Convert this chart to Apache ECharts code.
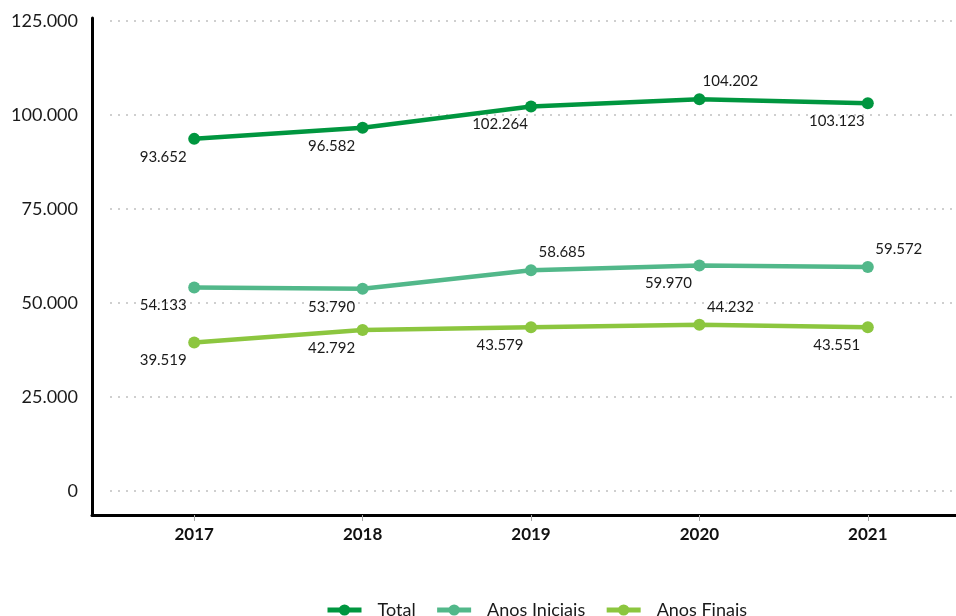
<!DOCTYPE html>
<html>
<head>
<meta charset="utf-8">
<script src="https://cdn.jsdelivr.net/npm/echarts@6/dist/echarts.min.js"></script>
<style>
  html, body { margin: 0; padding: 0; background: #fff; }
  #chart { width: 956px; height: 616px; }
</style>
</head>
<body>
<div id="chart"></div>
<script>
'use strict';

// categorias e valores
var anos = ['2017', '2018', '2019', '2020', '2021'];
var total = [93652, 96582, 102264, 104202, 103123];
var anosIniciais = [54133, 53790, 58685, 59970, 59572];
var anosFinais = [39519, 42792, 43579, 44232, 43551];

// rótulo acima (true) ou abaixo (false) do ponto
var rotuloTotal = [false, false, false, true, false];
var rotuloIniciais = [false, false, true, false, true];
var rotuloFinais = [false, false, false, true, false];

var FONTE = 'Lato, "Open Sans", sans-serif';

function milhar(v) {
    return String(v).replace(/\B(?=(\d{3})+(?!\d))/g, '.');
}

function pontos(valores, acima) {
    return valores.map(function (v, i) {
        return {
            value: v,
            label: {
                position: 'inside',
                offset: acima[i] ? [31, -18] : [-31, 18]
            }
        };
    });
}

function serie(nome, cor, valores, acima) {
    return {
        name: nome,
        type: 'line',
        xAxisIndex: 0,
        yAxisIndex: 0,
        data: pontos(valores, acima),
        symbol: 'circle',
        symbolSize: 12,
        color: cor,
        lineStyle: { width: 4.5, color: cor },
        itemStyle: { color: cor },
        label: {
            show: true,
            color: '#1a1a1a',
            fontSize: 15,
            fontFamily: FONTE,
            formatter: function (p) { return milhar(p.value); }
        },
        z: 5
    };
}

var chart = echarts.init(document.getElementById('chart'));

chart.setOption({
    animation: false,
    backgroundColor: '#fff',
    grid: [
        { left: 110, right: 4, top: 21, bottom: 125 },
        { left: 92, right: 0, top: 18, bottom: 101 }
    ],
    legend: {
        left: 320,
        top: 596,
        itemWidth: 34,
        itemHeight: 14,
        itemGap: 19,
        lineStyle: { width: 5 },
        textStyle: {
            fontSize: 18,
            fontFamily: FONTE,
            color: '#1a1a1a',
            padding: [0, 0, 0, 11]
        },
        data: ['Total', 'Anos Iniciais', 'Anos Finais']
    },
    xAxis: [
        {
            type: 'category',
            gridIndex: 0,
            data: anos,
            boundaryGap: true,
            offset: 24,
            axisLine: { show: false, onZero: false },
            axisTick: { show: true, alignWithLabel: true, length: 6, lineStyle: { color: '#a6a6a6' } },
            axisLabel: {
                margin: 11,
                fontSize: 17,
                fontWeight: 'bold',
                fontFamily: FONTE,
                color: '#111'
            },
            splitLine: { show: false }
        },
        {
            type: 'value',
            gridIndex: 1,
            min: 0,
            max: 1,
            axisLine: { show: true, lineStyle: { color: '#000', width: 3 } },
            axisTick: { show: false },
            axisLabel: { show: false },
            splitLine: { show: false }
        }
    ],
    yAxis: [
        {
            type: 'value',
            gridIndex: 0,
            min: 0,
            max: 125000,
            interval: 25000,
            axisLine: { show: false },
            axisTick: { show: false },
            axisLabel: {
                margin: 32,
                fontSize: 18,
                fontFamily: FONTE,
                color: '#1a1a1a',
                formatter: milhar
            },
            splitLine: {
                show: true,
                lineStyle: { color: '#c0c0c0', type: [2, 6], width: 1.5 }
            }
        },
        {
            type: 'value',
            gridIndex: 1,
            min: 0,
            max: 1,
            axisLine: { show: true, lineStyle: { color: '#000', width: 3 } },
            axisTick: { show: false },
            axisLabel: { show: false },
            splitLine: { show: false }
        }
    ],
    series: [
        serie('Total', '#00963f', total, rotuloTotal),
        serie('Anos Iniciais', '#52b88a', anosIniciais, rotuloIniciais),
        serie('Anos Finais', '#8cc63f', anosFinais, rotuloFinais)
    ]
});
</script>
</body>
</html>
